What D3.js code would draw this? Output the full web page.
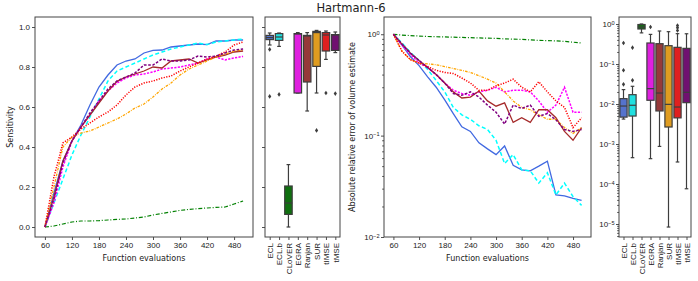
<!DOCTYPE html>
<html>
<head>
<meta charset="utf-8">
<script src="https://cdn.jsdelivr.net/npm/d3@7"></script>
<style>
  body { margin: 0; background: #fff; }
  svg { font-family: "DejaVu Sans", sans-serif; }
</style>
</head>
<body>
<svg id="chart" width="698" height="281"></svg>
<script>
// evaluations on the x axis
const evals = [60, 80, 100, 120, 140, 160, 180, 200, 220, 240, 260, 280, 300, 320, 340, 360, 380, 400, 420, 440, 460, 480, 500];
const xTicks = [60, 120, 180, 240, 300, 360, 420, 480];
const sensTicks = [0, 0.2, 0.4, 0.6, 0.8, 1.0];
const methods = ["ECL", "ECL.b", "CLoVER", "EGRA", "Ranjan", "SUR", "tIMSE", "tMSE"];

// sensitivity per method
const sensECL    = [0, 0.17, 0.33, 0.43, 0.51, 0.61, 0.70, 0.76, 0.81, 0.83, 0.84, 0.87, 0.883, 0.885, 0.90, 0.905, 0.91, 0.915, 0.912, 0.93, 0.93, 0.935, 0.935];
const sensECLb   = [0, 0.12, 0.24, 0.36, 0.46, 0.55, 0.64, 0.73, 0.78, 0.80, 0.82, 0.84, 0.86, 0.875, 0.89, 0.90, 0.91, 0.92, 0.912, 0.925, 0.93, 0.935, 0.94];
const sensCLoVER = [0, 0.005, 0.015, 0.025, 0.03, 0.03, 0.032, 0.035, 0.038, 0.04, 0.045, 0.05, 0.06, 0.068, 0.075, 0.083, 0.088, 0.092, 0.095, 0.098, 0.1, 0.115, 0.13];
const sensEGRA   = [0, 0.12, 0.30, 0.43, 0.50, 0.56, 0.63, 0.68, 0.72, 0.745, 0.76, 0.765, 0.775, 0.79, 0.795, 0.80, 0.81, 0.82, 0.84, 0.85, 0.835, 0.845, 0.853];
const sensRanjan = [0, 0.15, 0.33, 0.43, 0.50, 0.56, 0.62, 0.68, 0.728, 0.75, 0.765, 0.78, 0.80, 0.795, 0.83, 0.835, 0.84, 0.82, 0.835, 0.85, 0.86, 0.875, 0.88];
const sensSUR    = [0, 0.2, 0.4, 0.45, 0.47, 0.48, 0.5, 0.52, 0.54, 0.565, 0.595, 0.615, 0.65, 0.69, 0.72, 0.76, 0.79, 0.81, 0.83, 0.85, 0.865, 0.88, 0.885];
const sensTIMSE  = [0, 0.25, 0.42, 0.45, 0.49, 0.52, 0.55, 0.575, 0.61, 0.66, 0.70, 0.72, 0.73, 0.745, 0.755, 0.78, 0.80, 0.82, 0.84, 0.855, 0.875, 0.91, 0.925];
const sensTMSE   = [0, 0.14, 0.32, 0.43, 0.50, 0.57, 0.63, 0.69, 0.73, 0.75, 0.77, 0.81, 0.81, 0.84, 0.83, 0.83, 0.835, 0.855, 0.85, 0.855, 0.87, 0.885, 0.89];

// absolute relative error of volume estimate per method
const errECL    = [1.0, 0.78, 0.6, 0.49, 0.38, 0.30, 0.225, 0.165, 0.122, 0.11, 0.085, 0.074, 0.065, 0.079, 0.051, 0.046, 0.045, 0.05, 0.056, 0.026, 0.0255, 0.024, 0.023];
const errECLb   = [1.0, 0.82, 0.66, 0.55, 0.45, 0.35, 0.27, 0.19, 0.16, 0.145, 0.125, 0.115, 0.09, 0.053, 0.065, 0.046, 0.045, 0.034, 0.043, 0.026, 0.034, 0.025, 0.0205];
const errCLoVER = [1.0, 0.98, 0.97, 0.96, 0.95, 0.945, 0.94, 0.935, 0.93, 0.925, 0.92, 0.915, 0.91, 0.9, 0.895, 0.89, 0.88, 0.87, 0.865, 0.86, 0.85, 0.835, 0.82];
const errEGRA   = [1.0, 0.78, 0.63, 0.52, 0.47, 0.40, 0.33, 0.28, 0.26, 0.25, 0.27, 0.28, 0.30, 0.27, 0.28, 0.28, 0.27, 0.22, 0.17, 0.2, 0.3, 0.17, 0.17];
const errRanjan = [1.0, 0.8, 0.65, 0.55, 0.47, 0.40, 0.33, 0.27, 0.235, 0.24, 0.275, 0.22, 0.195, 0.21, 0.135, 0.15, 0.135, 0.18, 0.18, 0.15, 0.11, 0.09, 0.12];
const errSUR    = [1.0, 0.68, 0.56, 0.52, 0.51, 0.50, 0.48, 0.46, 0.44, 0.42, 0.39, 0.36, 0.33, 0.27, 0.22, 0.19, 0.18, 0.16, 0.145, 0.145, 0.12, 0.105, 0.12];
const errTIMSE  = [1.0, 0.68, 0.56, 0.52, 0.48, 0.44, 0.42, 0.41, 0.37, 0.33, 0.28, 0.28, 0.31, 0.33, 0.36, 0.3, 0.27, 0.34, 0.27, 0.22, 0.19, 0.12, 0.15];
const errTMSE   = [1.0, 0.8, 0.65, 0.55, 0.47, 0.40, 0.33, 0.26, 0.25, 0.27, 0.24, 0.2, 0.17, 0.13, 0.2, 0.185, 0.2, 0.155, 0.165, 0.143, 0.115, 0.11, 0.115];

// final sensitivity distribution: [whisker low, q1, median, q3, whisker high]
const sensBox = [
  [0.91, 0.937, 0.947, 0.958, 0.97],
  [0.903, 0.933, 0.95, 0.967, 0.97],
  [0.0, 0.063, 0.12, 0.205, 0.312],
  [0.67, 0.67, 0.965, 0.967, 0.972],
  [0.58, 0.725, 0.955, 0.958, 0.972],
  [0.67, 0.803, 0.972, 0.978, 0.983],
  [0.838, 0.88, 0.96, 0.972, 0.98],
  [0.872, 0.883, 0.96, 0.962, 0.975]
];
const sensOutliers = [[0.888, 0.653], [0.663], [], [], [], [0.483], [0.67], [0.667]];

// final error distribution
const errBox = [
  [0.0042, 0.0047, 0.0089, 0.0136, 0.0229],
  [0.000455, 0.005, 0.0093, 0.0171, 0.0277],
  [0.6, 0.75, 0.84, 0.97, 1.0],
  [0.00043, 0.0124, 0.0242, 0.335, 0.55],
  [0.00087, 0.0067, 0.0188, 0.322, 0.668],
  [8.4e-6, 0.00266, 0.0098, 0.287, 0.643],
  [0.000355, 0.0045, 0.0084, 0.261, 0.573],
  [7.6e-5, 0.0108, 0.0196, 0.246, 0.57]
];
const errOutliers = [[0.031, 0.0695, 0.335], [0.039, 0.256], [], [0.84], [], [], [0.69, 0.81, 0.92], []];

const sensSeries = [sensECL, sensECLb, sensCLoVER, sensEGRA, sensRanjan, sensSUR, sensTIMSE, sensTMSE];
const errSeries = [errECL, errECLb, errCLoVER, errEGRA, errRanjan, errSUR, errTIMSE, errTMSE];

const colors = ["royalblue", "cyan", "green", "magenta", "brown", "orange", "red", "purple"];
const dashes = [null, "4,2.5", "4,1.8,1,1.8", "2.2,1.3", null, "2.6,1.2,0.8,1.2", "1.2,1.4", "2.6,1.6"];
const widths = [1.3, 1.5, 1.2, 1.5, 1.3, 1.3, 1.5, 1.5];

const ink = "#222";
const boxEdge = "#3d3d3d";
const svg = d3.select("#chart");

// panel frames
const P1 = { x0: 35, x1: 253, y0: 17, y1: 237 };
const P2 = { x0: 265, x1: 340, y0: 17, y1: 237 };
const P3 = { x0: 384, x1: 591, y0: 17, y1: 237 };
const P4 = { x0: 619, x1: 691, y0: 17, y1: 237 };

function styleAxis(g) {
  g.select(".domain").remove();
  g.selectAll(".tick line").attr("stroke", ink).attr("stroke-width", 0.8);
  g.selectAll(".tick text").attr("fill", ink).attr("font-size", 8);
}

function frame(p) {
  svg.append("rect")
    .attr("x", p.x0).attr("y", p.y0)
    .attr("width", p.x1 - p.x0).attr("height", p.y1 - p.y0)
    .attr("fill", "none").attr("stroke", "#444").attr("stroke-width", 1);
}

function supLabels(g) {
  g.selectAll(".tick text").each(function(d) {
    const t = d3.select(this);
    const e = Math.round(Math.log10(d));
    t.text(null);
    t.append("tspan").text("10");
    t.append("tspan").attr("dy", "-0.45em").attr("font-size", 5.6)
      .text(e < 0 ? "\u2212" + (-e) : String(e));
  });
}

function minorTicks(scale, lo, hi) {
  const out = [];
  for (let e = lo; e <= hi; e++) {
    for (let k = 2; k <= 9; k++) {
      const v = k * Math.pow(10, e);
      const d = scale.domain();
      if (v > d[0] && v < d[1]) out.push(v);
    }
  }
  return out;
}

// ---------- panel 1: sensitivity lines ----------
const x1 = d3.scaleLinear().domain([38, 522]).range([P1.x0, P1.x1]);
const y1 = d3.scaleLinear().domain([-0.05, 1.05]).range([P1.y1, P1.y0]);

svg.append("g").attr("transform", `translate(0,${P1.y1})`)
  .call(d3.axisBottom(x1).tickValues(xTicks).tickSize(3).tickPadding(2.5))
  .call(styleAxis);
svg.append("g").attr("transform", `translate(${P1.x0},0)`)
  .call(d3.axisLeft(y1).tickValues(sensTicks).tickFormat(d3.format(".1f")).tickSize(3).tickPadding(2))
  .call(styleAxis);

const line1 = d3.line().x((d, i) => x1(evals[i])).y(d => y1(d));
sensSeries.forEach((s, k) => {
  svg.append("path").datum(s)
    .attr("d", line1)
    .attr("fill", "none")
    .attr("stroke", colors[k])
    .attr("stroke-width", widths[k])
    .attr("stroke-dasharray", dashes[k]);
});
frame(P1);

svg.append("text").attr("x", (P1.x0 + P1.x1) / 2).attr("y", 260.5)
  .attr("text-anchor", "middle").attr("font-size", 8).attr("fill", ink)
  .text("Function evaluations");
svg.append("text").attr("transform", `translate(12.5,${(P1.y0 + P1.y1) / 2}) rotate(-90)`)
  .attr("text-anchor", "middle").attr("font-size", 8).attr("fill", ink)
  .text("Sensitivity");

// ---------- box plot helper ----------
function boxPanel(p, yScale, stats, outliers) {
  const xb = d3.scaleLinear().domain([-0.5, 7.5]).range([p.x0, p.x1]);
  const half = (xb(0.4) - xb(0));
  const g = svg.append("g");
  stats.forEach((s, i) => {
    const cx = xb(i);
    const fill = d3.hsl(colors[i]);
    fill.s *= 0.75;
    // whiskers
    g.append("line").attr("x1", cx).attr("x2", cx)
      .attr("y1", yScale(s[0])).attr("y2", yScale(s[1]))
      .attr("stroke", boxEdge).attr("stroke-width", 1.2);
    g.append("line").attr("x1", cx).attr("x2", cx)
      .attr("y1", yScale(s[3])).attr("y2", yScale(s[4]))
      .attr("stroke", boxEdge).attr("stroke-width", 1.2);
    [s[0], s[4]].forEach(v => {
      g.append("line").attr("x1", cx - half / 2).attr("x2", cx + half / 2)
        .attr("y1", yScale(v)).attr("y2", yScale(v))
        .attr("stroke", boxEdge).attr("stroke-width", 1.2);
    });
    g.append("rect")
      .attr("x", cx - half).attr("width", 2 * half)
      .attr("y", yScale(s[3])).attr("height", Math.max(0.5, yScale(s[1]) - yScale(s[3])))
      .attr("fill", fill.formatHex()).attr("stroke", boxEdge).attr("stroke-width", 1.2);
    g.append("line").attr("x1", cx - half).attr("x2", cx + half)
      .attr("y1", yScale(s[2])).attr("y2", yScale(s[2]))
      .attr("stroke", boxEdge).attr("stroke-width", 1.2);
    outliers[i].forEach(v => {
      const yy = yScale(v);
      g.append("path")
        .attr("d", `M${cx},${yy - 2.3}L${cx + 1.6},${yy}L${cx},${yy + 2.3}L${cx - 1.6},${yy}Z`)
        .attr("fill", boxEdge);
    });
  });
  const ax = svg.append("g").attr("transform", `translate(0,${p.y1})`)
    .call(d3.axisBottom(xb).tickValues(d3.range(methods.length)).tickFormat(i => methods[i]).tickSize(3))
    .call(styleAxis);
  ax.selectAll(".tick text")
    .attr("transform", "rotate(-90)")
    .attr("x", -6).attr("y", 0).attr("dy", "0.34em")
    .attr("text-anchor", "end");
  frame(p);
}

// ---------- panel 2: sensitivity boxes ----------
svg.append("g").attr("transform", `translate(${P2.x0},0)`)
  .call(d3.axisLeft(y1).tickValues(sensTicks).tickFormat("").tickSize(3))
  .call(styleAxis);
boxPanel(P2, y1, sensBox, sensOutliers);

// ---------- panel 3: error lines (log) ----------
const x3 = d3.scaleLinear().domain([38, 522]).range([P3.x0, P3.x1]);
const y3 = d3.scaleLog().domain([1e-2, Math.pow(10, 0.17)]).range([P3.y1, P3.y0]);

svg.append("g").attr("transform", `translate(0,${P3.y1})`)
  .call(d3.axisBottom(x3).tickValues(xTicks).tickSize(3).tickPadding(2.5))
  .call(styleAxis);
svg.append("g").attr("transform", `translate(${P3.x0},0)`)
  .call(d3.axisLeft(y3).tickValues(minorTicks(y3, -2, 0)).tickFormat("").tickSize(1.8))
  .call(styleAxis);
svg.append("g").attr("transform", `translate(${P3.x0},0)`)
  .call(d3.axisLeft(y3).tickValues([1, 0.1, 0.01]).tickSize(3).tickPadding(1.5))
  .call(styleAxis).call(supLabels);

const line3 = d3.line().x((d, i) => x3(evals[i])).y(d => y3(d));
errSeries.forEach((s, k) => {
  svg.append("path").datum(s)
    .attr("d", line3)
    .attr("fill", "none")
    .attr("stroke", colors[k])
    .attr("stroke-width", widths[k])
    .attr("stroke-dasharray", dashes[k]);
});
frame(P3);

svg.append("text").attr("x", (P3.x0 + P3.x1) / 2).attr("y", 260.5)
  .attr("text-anchor", "middle").attr("font-size", 8).attr("fill", ink)
  .text("Function evaluations");
svg.append("text").attr("transform", `translate(354.5,${(P3.y0 + P3.y1) / 2}) rotate(-90)`)
  .attr("text-anchor", "middle").attr("font-size", 8).attr("fill", ink)
  .text("Absolute relative error of volume estimate");

// ---------- panel 4: error boxes (log) ----------
const y4 = d3.scaleLog().domain([Math.pow(10, -5.325), Math.pow(10, 0.175)]).range([P4.y1, P4.y0]);
svg.append("g").attr("transform", `translate(${P4.x0},0)`)
  .call(d3.axisLeft(y4).tickValues(minorTicks(y4, -6, 0)).tickFormat("").tickSize(1.8))
  .call(styleAxis);
svg.append("g").attr("transform", `translate(${P4.x0},0)`)
  .call(d3.axisLeft(y4).tickValues([1, 0.1, 0.01, 0.001, 0.0001, 0.00001]).tickSize(3).tickPadding(1.5))
  .call(styleAxis).call(supLabels);
boxPanel(P4, y4, errBox, errOutliers);

// title
svg.append("text").attr("x", 351).attr("y", 12)
  .attr("text-anchor", "middle").attr("font-size", 11.5).attr("fill", ink)
  .text("Hartmann-6");
</script>
</body>
</html>
